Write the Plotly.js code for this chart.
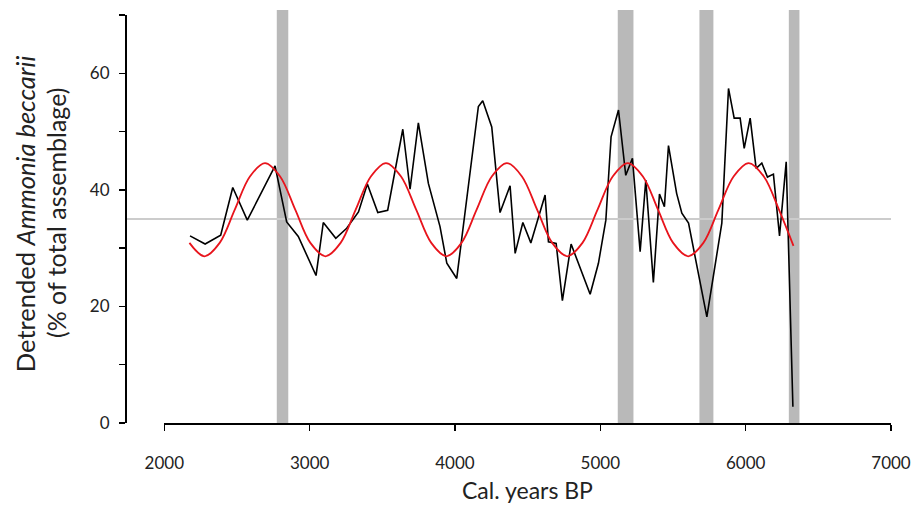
<!DOCTYPE html>
<html>
<head>
<meta charset="utf-8">
<script src="https://cdn.plot.ly/plotly-3.0.1.min.js"></script>
<style>html,body{margin:0;padding:0;background:#fff;}#chart{width:918px;height:512px;}</style>
</head>
<body>
<div id="chart"></div>
<script>
// Detrended Ammonia beccarii record (black line)
const blackYears = [2177, 2281, 2388, 2471, 2571, 2762, 2842, 2922, 3044, 3094, 3180, 3255, 3336, 3397, 3469, 3537, 3641, 3691, 3748, 3817, 3897, 3944, 4012, 4161, 4191, 4253, 4310, 4379, 4414, 4467, 4522, 4620, 4643, 4696, 4739, 4799, 4930, 4987, 5038, 5074, 5125, 5175, 5221, 5274, 5313, 5365, 5407, 5441, 5469, 5525, 5561, 5607, 5733, 5836, 5882, 5921, 5962, 5990, 6031, 6072, 6111, 6150, 6191, 6233, 6279, 6325];
const blackValues = [32.1, 30.7, 32.2, 40.4, 34.8, 44.1, 34.5, 32.0, 25.3, 34.4, 31.7, 33.4, 36.2, 41.0, 36.1, 36.5, 50.4, 40.1, 51.5, 41.1, 33.7, 27.4, 24.8, 54.3, 55.3, 50.8, 36.1, 40.7, 29.1, 34.4, 30.9, 39.1, 31.1, 30.8, 21.0, 30.7, 22.1, 27.4, 34.8, 49.1, 53.7, 42.5, 45.4, 29.4, 41.7, 24.1, 39.3, 37.1, 47.6, 39.4, 36.0, 34.3, 18.2, 34.3, 57.4, 52.3, 52.3, 47.1, 52.3, 43.7, 44.6, 42.2, 42.7, 32.1, 44.8, 2.8];

// Fitted cycle (red curve)
const redYears = [2173, 2277, 2381, 2485, 2589, 2693, 2797, 2901, 3005, 3109, 3213, 3317, 3421, 3525, 3629, 3733, 3837, 3941, 4045, 4149, 4253, 4357, 4461, 4565, 4669, 4773, 4877, 4981, 5085, 5189, 5293, 5397, 5501, 5605, 5709, 5813, 5917, 6021, 6125, 6229, 6329];
const redValues = [30.9, 28.6, 30.9, 36.6, 42.3, 44.6, 42.3, 36.6, 30.9, 28.6, 30.9, 36.6, 42.3, 44.6, 42.3, 36.6, 30.9, 28.6, 30.9, 36.6, 42.3, 44.6, 42.3, 36.6, 30.9, 28.6, 30.9, 36.6, 42.3, 44.6, 42.3, 36.6, 30.9, 28.6, 30.9, 36.6, 42.3, 44.6, 42.3, 36.6, 30.4];

// Shaded event intervals (cal. years BP)
const eventStart = [2774, 5120, 5682, 6297];
const eventEnd = [2853, 5228, 5778, 6370];

const meanLevel = 35;

const xTicks = [2000, 3000, 4000, 5000, 6000, 7000];
const yTickVals = [0, 10, 20, 30, 40, 50, 60, 70];
const yTickText = ['0', '', '20', '', '40', '', '60', ''];

const FONT = 'Lato, Carlito, "Open Sans", sans-serif';

const shapes = [];
for (let i = 0; i < eventStart.length; i++) {
  shapes.push({type: 'rect', xref: 'x', yref: 'paper', x0: eventStart[i], x1: eventEnd[i], y0: 0, y1: 1.012,
    fillcolor: '#b9b9b9', line: {width: 0}, layer: 'below'});
}
shapes.push({type: 'line', xref: 'paper', yref: 'y', x0: 0, x1: 1, y0: meanLevel, y1: meanLevel,
  line: {color: '#cccccc', width: 2}, layer: 'below'});

const traces = [
  {x: blackYears, y: blackValues, type: 'scatter', mode: 'lines', line: {color: '#000000', width: 1.6}, hoverinfo: 'x+y'},
  {x: redYears, y: redValues, type: 'scatter', mode: 'lines', line: {color: '#e8141c', width: 1.8, shape: 'spline', smoothing: 1}, hoverinfo: 'x+y'}
];

const layout = {
  width: 918, height: 512,
  margin: {l: 125, r: 27, t: 15, b: 89},
  paper_bgcolor: '#ffffff', plot_bgcolor: 'rgba(0,0,0,0)',
  showlegend: false,
  font: {family: FONT, color: '#222222', size: 16},
  xaxis: {
    domain: [0.0513, 1], range: [2000, 7000], tickvals: xTicks, ticktext: xTicks.map(String),
    showline: true, linecolor: '#000', linewidth: 1.5, ticks: 'outside', ticklen: 6, tickwidth: 1.5, tickcolor: '#000',
    showgrid: false, zeroline: false, ticklabelstandoff: 18, tickfont: {family: FONT, size: 17, color: '#222'}
  },
  yaxis: {
    anchor: 'free', position: 0, range: [0, 70], tickvals: yTickVals, ticktext: yTickText,
    showline: true, linecolor: '#000', linewidth: 1.5, ticks: 'outside', ticklen: 6, tickwidth: 1.5, tickcolor: '#000',
    showgrid: false, zeroline: false, ticklabelstandoff: 6, tickfont: {family: FONT, size: 17, color: '#222'}
  },
  shapes: shapes,
  annotations: [
    {text: 'Cal. years BP', xref: 'paper', yref: 'paper', x: 0.5257, y: -0.164, xanchor: 'center', yanchor: 'middle',
      showarrow: false, font: {family: FONT, size: 23, color: '#222'}},
    {text: 'Detrended <i>Ammonia beccarii</i>', xref: 'paper', yref: 'paper', x: -0.1305, y: 0.512, xanchor: 'center', yanchor: 'middle',
      textangle: -90, showarrow: false, font: {family: FONT, size: 25.5, color: '#222'}},
    {text: '(% of total assemblage)', xref: 'paper', yref: 'paper', x: -0.0901, y: 0.517, xanchor: 'center', yanchor: 'middle',
      textangle: -90, showarrow: false, font: {family: FONT, size: 25, color: '#222'}}
  ]
};

Plotly.newPlot('chart', traces, layout, {displayModeBar: false, staticPlot: true});
</script>
</body>
</html>
